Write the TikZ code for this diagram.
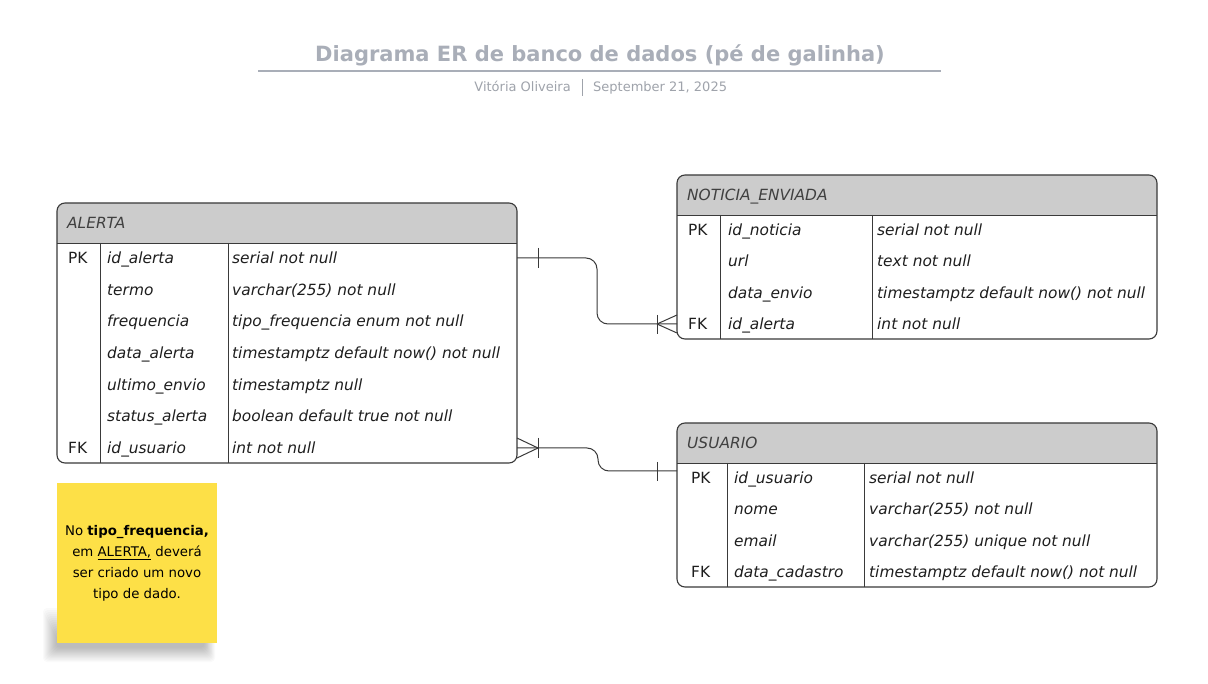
\documentclass[tikz,border=0pt]{standalone}
\usepackage{fontspec}
\setmainfont{DejaVu Sans}
\definecolor{titlegray}{HTML}{A9AEB8}
\definecolor{subgray}{HTML}{9FA3AB}
\definecolor{hdr}{HTML}{CCCCCC}
\definecolor{edge}{HTML}{3A3A3A}
\definecolor{notey}{HTML}{FDE047}
\definecolor{ink}{HTML}{1E1E1E}
\newcommand\ertable[9]{%
  \fill[hdr, rounded corners=8pt] (#1,#2) rectangle (#3,#4);
  \fill[hdr] (#1,{#4-10}) rectangle (#3,#4);
  \draw[tbl, rounded corners=8pt] (#1,#2) rectangle (#3,#5);
  \draw[sep] (#1,#4) -- (#3,#4);
  \draw[sep] (#6,#4) -- (#6,#5);
  \draw[sep] (#7,#4) -- (#7,#5);
  \node[hdrtext] (#8) at ({#1+10},{(#2+#4)/2+5.5}) {#9};
}
\begin{document}
\begin{tikzpicture}[x=1pt,y=-1pt,
  tbl/.style={draw=edge, line width=1.1pt},
  sep/.style={draw=edge, line width=0.9pt},
  conn/.style={draw=edge, line width=1pt},
  cell/.style={anchor=base west, inner sep=0pt, font=\fontsize{15.4}{18}\selectfont\itshape, text=ink},
  keycell/.style={anchor=base west, inner sep=0pt, font=\fontsize{15.4}{18}\selectfont, text=ink},
  hdrtext/.style={anchor=base west, inner sep=0pt, font=\fontsize{15.4}{18}\selectfont\itshape, text=ink!85},
  notetext/.style={anchor=base, inner sep=0pt, font=\fontsize{13.3}{16}\selectfont, text=black},
]
\useasboundingbox (0,0) rectangle (1208,684);
\fill[white] (0,0) rectangle (1208,684);

% ---------- title ----------
\node[anchor=base, inner sep=0pt, text=titlegray, font=\fontsize{21}{25}\selectfont\bfseries] (title) at (600,62) {Diagrama ER de banco de dados (pé de galinha)};
\coordinate (tl) at (258,71);
\coordinate (tr) at (941,71);
\draw[titlegray, line width=1.6pt] (tl) -- (tr);
\node[anchor=base east, inner sep=0pt, text=subgray, font=\fontsize{13}{16}\selectfont] (author) at (571,92) {Vitória Oliveira};
\node[anchor=base west, inner sep=0pt, text=subgray, font=\fontsize{13}{16}\selectfont] (date) at (593,92) {September 21, 2025};
\coordinate (bt) at (582,79);
\coordinate (bb) at (582,96);
\draw[subgray, line width=0.8pt] (bt) -- (bb);

% ---------- ALERTA ----------
\ertable{57}{203}{517}{243}{463}{100}{228}{alerta}{ALERTA}
\foreach \k/\n/\t [count=\i] in {PK/id\_alerta/serial not null,
  /termo/varchar(255) not null,
  /frequencia/tipo\_frequencia enum not null,
  /data\_alerta/timestamptz default now() not null,
  /ultimo\_envio/timestamptz null,
  /status\_alerta/boolean default true not null,
  FK/id\_usuario/int not null}{
  \pgfmathsetmacro\yy{258+(\i-1)*31.67+5.5}
  \node[keycell] (alerta-k\i) at (68,\yy) {\k};
  \node[cell] (alerta-n\i) at (107,\yy) {\n};
  \node[cell] (alerta-t\i) at (232,\yy) {\t};
}

% ---------- NOTICIA_ENVIADA ----------
\ertable{677}{175}{1157}{215}{339}{720}{872}{noticia}{NOTICIA\_ENVIADA}
\foreach \k/\n/\t [count=\i] in {PK/id\_noticia/serial not null,
  /url/text not null,
  /data\_envio/timestamptz default now() not null,
  FK/id\_alerta/int not null}{
  \pgfmathsetmacro\yy{230+(\i-1)*31.33+5.5}
  \node[keycell] (noticia-k\i) at (688,\yy) {\k};
  \node[cell] (noticia-n\i) at (728,\yy) {\n};
  \node[cell] (noticia-t\i) at (877,\yy) {\t};
}

% ---------- USUARIO ----------
\ertable{677}{423}{1157}{463}{587}{727}{864}{usuario}{USUARIO}
\foreach \k/\n/\t [count=\i] in {PK/id\_usuario/serial not null,
  /nome/varchar(255) not null,
  /email/varchar(255) unique not null,
  FK/data\_cadastro/timestamptz default now() not null}{
  \pgfmathsetmacro\yy{478+(\i-1)*31.33+5.5}
  \node[keycell] (usuario-k\i) at (691,\yy) {\k};
  \node[cell] (usuario-n\i) at (734,\yy) {\n};
  \node[cell] (usuario-t\i) at (869,\yy) {\t};
}

% ---------- connector ALERTA.id_alerta -> NOTICIA.id_alerta ----------
\coordinate (a1) at (517,258);
\coordinate (m1) at (597,324);
\coordinate (n4) at (677,324);
\coordinate (n4f) at (657,324);
\draw[conn, rounded corners=11pt] (a1) -| (m1) -- (n4);
\draw[conn] (538,248) -- (538,268);
\draw[conn] (657,315) -- (657,334);
\draw[conn] (n4f) -- (677,315);
\draw[conn] (n4f) -- (677,333);

% ---------- connector ALERTA.id_usuario -> USUARIO ----------
\coordinate (a7) at (517,448);
\coordinate (a7f) at (538,448);
\coordinate (m2) at (598,471);
\coordinate (u1) at (677,471);
\draw[conn, rounded corners=11pt] (a7) -| (m2) -- (u1);
\draw[conn] (538,438) -- (538,458);
\draw[conn] (a7f) -- (517,438);
\draw[conn] (a7f) -- (517,458);
\draw[conn] (657,462) -- (657,481);

% ---------- sticky note ----------
\foreach \i in {0,...,13}{
  \fill[black, opacity=0.018, rounded corners=4pt] ({43+\i*1},{608+\i*2}) rectangle ({215-\i*0.8},{662-\i*1.1});
}
\fill[notey] (57,483) rectangle (217,643);
\node[notetext] (nl1) at (137,535) {No \textbf{tipo\_frequencia,}};
\node[notetext] (nl2) at (137,556) {em \underline{ALERTA,} deverá};
\node[notetext] (nl3) at (137,577) {ser criado um novo};
\node[notetext] (nl4) at (137,598) {tipo de dado.};
\end{tikzpicture}
\end{document}
